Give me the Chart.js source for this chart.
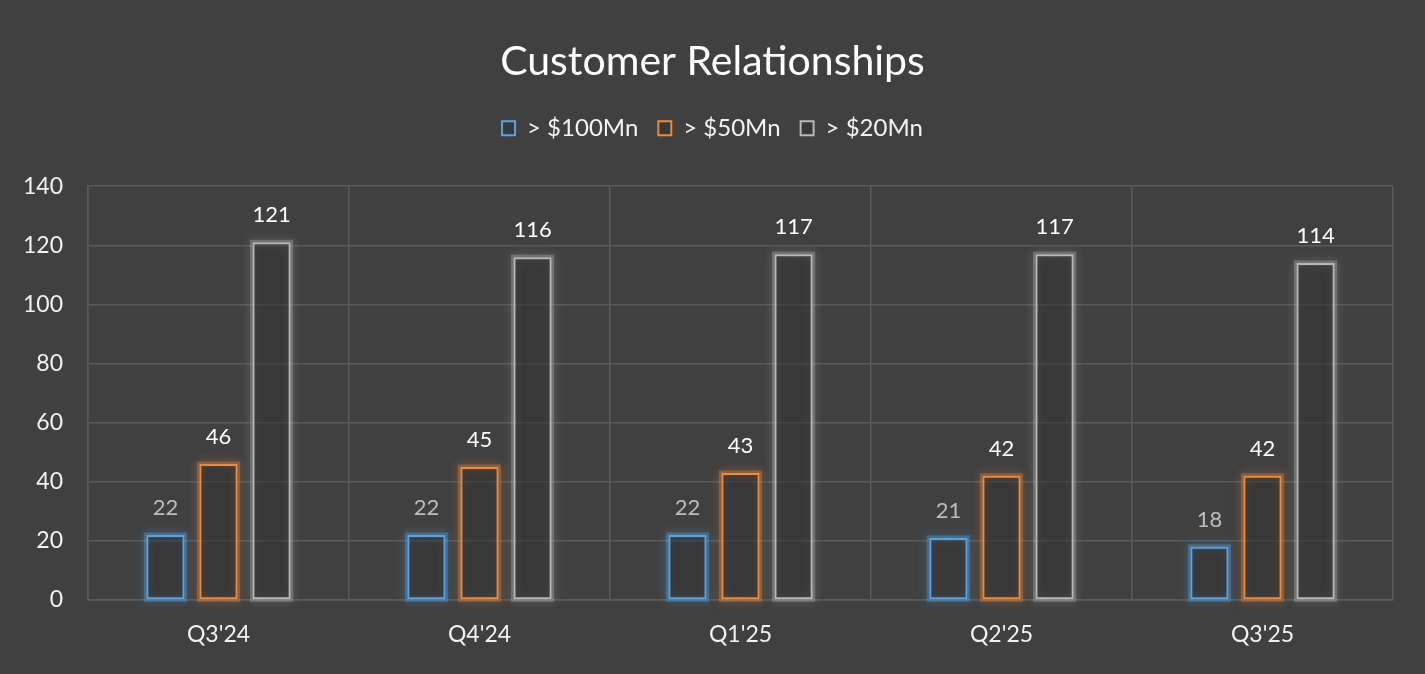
<!DOCTYPE html>
<html>
<head>
<meta charset="utf-8">
<script src="https://cdn.jsdelivr.net/npm/chart.js@4.4.0/dist/chart.umd.min.js"></script>
<style>
  html, body { margin: 0; padding: 0; background: #404040; }
  #wrap { width: 1425px; height: 674px; }
</style>
</head>
<body>
<div id="wrap"><canvas id="chart" width="1425" height="674"></canvas></div>
<script>
const quarters = ["Q3'24", "Q4'24", "Q1'25", "Q2'25", "Q3'25"]
const over100 = [22, 22, 22, 21, 18]
const over50 = [46, 45, 43, 42, 42]
const over20 = [121, 116, 117, 117, 114]
const seriesNames = ['> $100Mn', '> $50Mn', '> $20Mn']
const yTicks = [0, 20, 40, 60, 80, 100, 120, 140]

const BLUE = '#55a5e6'
const ORANGE = '#ee8a3c'
const GREY = '#b8b8b8'
const glowColors = ['rgba(85,165,230,0.35)', 'rgba(238,138,60,0.35)', 'rgba(200,200,200,0.3)']
const labelColors = ['#bdbdbd', '#ffffff', '#ffffff']

// soft glow drawn under each bar outline
const glowPlugin = {
    id: 'glow',
    beforeDatasetDraw(chart, args) {
        const ctx = chart.ctx
        ctx.save()
        ctx.strokeStyle = glowColors[args.index]
        ctx.shadowColor = chart.data.datasets[args.index].borderColor
        ctx.shadowBlur = 10
        ctx.lineWidth = 5
        chart.getDatasetMeta(args.index).data.forEach(bar => {
            const w = bar.width
            ctx.strokeRect(bar.x - w / 2, bar.y, w, bar.base - bar.y)
        })
        ctx.restore()
    }
}

// extra room under the legend so the plot starts lower
const legendSpace = {
    id: 'legendSpace',
    beforeInit(chart) {
        const fit = chart.legend.fit
        chart.legend.fit = function () {
            fit.call(this)
            this.height += 36
        }
    }
}

// value labels above bars
const valueLabels = {
    id: 'valueLabels',
    afterDatasetsDraw(chart) {
        const ctx = chart.ctx
        ctx.save()
        ctx.font = '22px Lato'
        ctx.textAlign = 'center'
        ctx.textBaseline = 'bottom'
        chart.data.datasets.forEach((ds, i) => {
            ctx.fillStyle = labelColors[i]
            chart.getDatasetMeta(i).data.forEach((bar, j) => {
                ctx.fillText(ds.data[j], bar.x, bar.y - 16)
            })
        })
        ctx.restore()
    }
}

const makeSet = (label, data, color) => ({
    label: label,
    data: data,
    backgroundColor: 'rgba(50,50,50,0.55)',
    borderColor: color,
    borderWidth: 2,
    borderSkipped: false,
    categoryPercentage: 0.61,
    barPercentage: 0.72
})

const config = {
    type: 'bar',
    data: {
        labels: quarters,
        datasets: [
            makeSet(seriesNames[0], over100, BLUE),
            makeSet(seriesNames[1], over50, ORANGE),
            makeSet(seriesNames[2], over20, GREY)
        ]
    },
    options: {
        responsive: false,
        animation: false,
        layout: { padding: { left: 0, right: 0, top: 0, bottom: 20 } },
        plugins: {
            title: {
                display: true,
                text: 'Customer Relationships',
                color: '#ffffff',
                font: { family: 'Lato', size: 41, weight: 'normal' },
                padding: { top: 37, bottom: 10 }
            },
            legend: {
                position: 'top',
                labels: {
                    color: '#f2f2f2',
                    font: { family: 'Lato', size: 24 },
                    boxWidth: 13,
                    boxHeight: 14,
                    padding: 20
                }
            },
            tooltip: { enabled: false }
        },
        scales: {
            x: {
                grid: { color: '#5a5a5a', lineWidth: 1.5, drawTicks: false, offset: true },
                border: { color: '#5a5a5a', width: 1.5 },
                ticks: { color: '#f2f2f2', font: { family: 'Lato', size: 23 }, padding: 21 },
                afterFit: scale => { scale.height = 54 }
            },
            y: {
                min: 0,
                max: 140,
                afterBuildTicks: scale => { scale.ticks = yTicks.map(v => ({ value: v })) },
                grid: { color: '#5a5a5a', lineWidth: 1.5, drawTicks: false },
                border: { color: '#5a5a5a', width: 1.5 },
                ticks: { color: '#f2f2f2', font: { family: 'Lato', size: 23 }, padding: 25 },
                afterFit: scale => { scale.width = 88 }
            },
            // empty right-hand spacer so the plot is inset like the left side
            yRight: {
                position: 'right',
                min: 0,
                max: 140,
                grid: { display: false },
                border: { display: false },
                ticks: { display: false },
                afterFit: scale => { scale.width = 32 }
            }
        }
    },
    plugins: [legendSpace, glowPlugin, valueLabels]
}

new Chart(document.getElementById('chart'), config)
</script>
</body>
</html>
